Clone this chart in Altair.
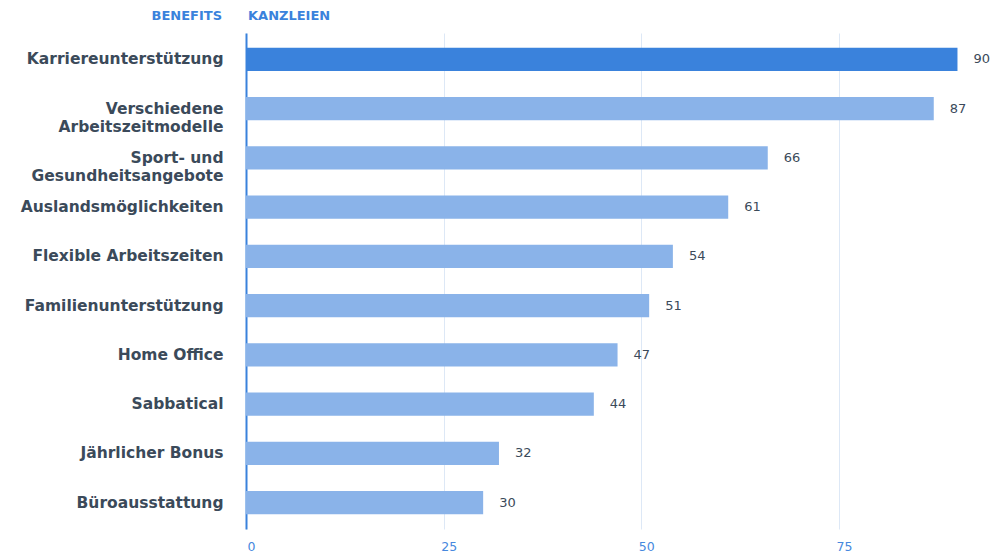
import altair as alt
import pandas as pd

categories = [
    "Karriereunterstützung",
    "Verschiedene\nArbeitszeitmodelle",
    "Sport- und\nGesundheitsangebote",
    "Auslandsmöglichkeiten",
    "Flexible Arbeitszeiten",
    "Familienunterstützung",
    "Home Office",
    "Sabbatical",
    "Jährlicher Bonus",
    "Büroausstattung",
]
values = [90, 87, 66, 61, 54, 51, 47, 44, 32, 30]
highlight = [True, False, False, False, False, False, False, False, False, False]
x_ticks = [0, 25, 50, 75]
header_left = "BENEFITS"
header_right = "KANZLEIEN"

df = pd.DataFrame({"benefit": categories, "value": values, "hl": highlight})

FONT = "DejaVu Sans"
LABEL_COLOR = "#3b4a5a"
BLUE = "#3a82dc"
LIGHT = "#8ab3e9"

x = alt.X(
    "value:Q",
    scale=alt.Scale(domain=[0, 95], nice=False, zero=True),
    axis=alt.Axis(
        values=x_ticks,
        title=None,
        domain=False,
        ticks=False,
        grid=True,
        gridColor="#dde8f6",
        gridWidth=1,
        labelColor="#4688de",
        labelFont=FONT,
        labelFontSize=12.5,
        labelPadding=11,
        labelOffset={"condition": {"test": "datum.value == 0", "value": 1}, "value": 5},
    ),
)
y = alt.Y(
    "benefit:N",
    sort=categories,
    scale=alt.Scale(paddingInner=0.53, paddingOuter=0.3),
    axis=alt.Axis(
        title=None,
        domain=True,
        domainColor=BLUE,
        domainWidth=2,
        ticks=False,
        labelFont=FONT,
        labelFontWeight="bold",
        labelFontSize=15.5,
        labelColor=LABEL_COLOR,
        labelPadding=23,
        labelLineHeight=18,
        labelExpr="split(datum.label, '\\n')",
        labelLimit=300,
    ),
)

bars = alt.Chart(df).mark_bar().encode(
    x=x,
    y=y,
    color=alt.Color(
        "hl:N",
        scale=alt.Scale(domain=[True, False], range=[BLUE, LIGHT]),
        legend=None,
    ),
)

labels = alt.Chart(df).mark_text(
    align="left", baseline="middle", dx=16, font=FONT, fontSize=13,
    color=LABEL_COLOR, fontWeight=500,
).encode(x="value:Q", y=alt.Y("benefit:N", sort=categories), text="value:Q")

head_left = alt.Chart(pd.DataFrame({"t": [header_left]})).mark_text(
    align="right", baseline="middle", font=FONT, fontSize=13, fontWeight="bold",
    color=BLUE,
).encode(x=alt.value(-24), y=alt.value(-17), text="t:N")
head_right = alt.Chart(pd.DataFrame({"t": [header_right]})).mark_text(
    align="left", baseline="middle", font=FONT, fontSize=13, fontWeight="bold",
    color=BLUE,
).encode(x=alt.value(2), y=alt.value(-17), text="t:N")

chart = (
    alt.layer(bars, labels, head_left, head_right)
    .properties(
        width=751,
        height=496,
        autosize=alt.AutoSizeParams(type="none"),
        padding={"left": 246, "top": 33, "right": 6, "bottom": 24},
        background="white",
    )
    .configure_view(stroke=None)
)

chart.save("out.html", embed_options={"renderer": "svg", "actions": False})
